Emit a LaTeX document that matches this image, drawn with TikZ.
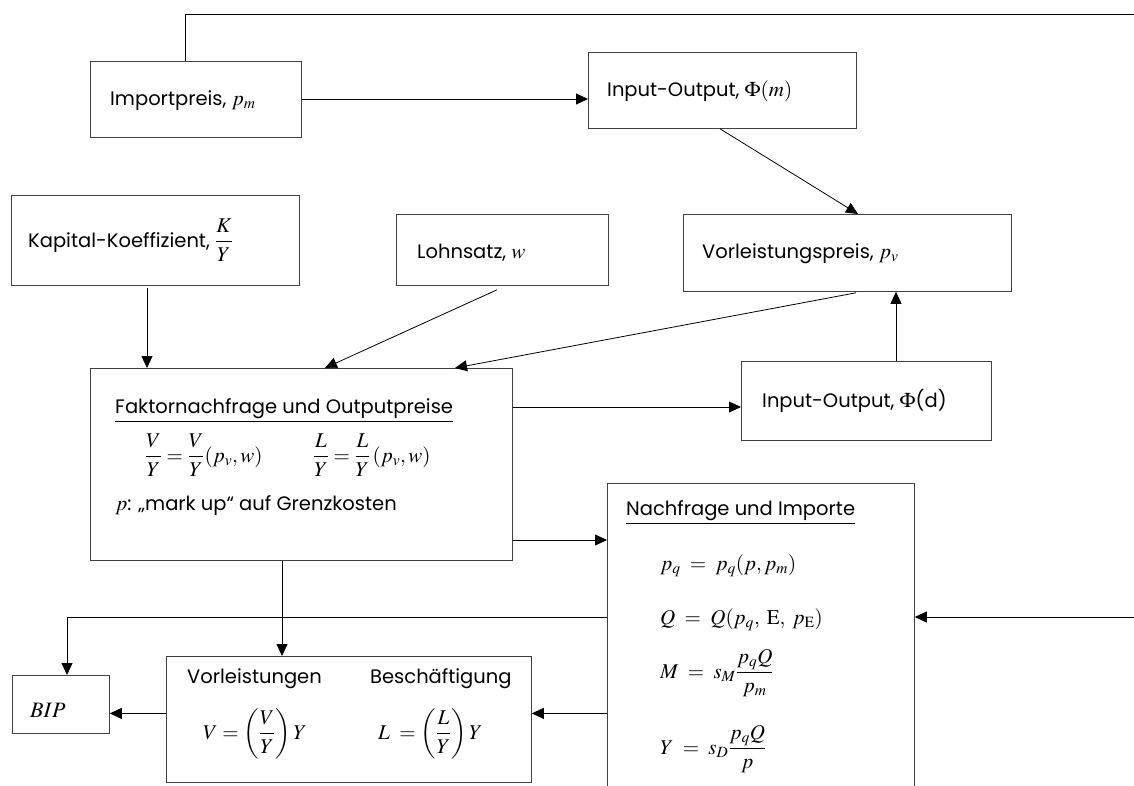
\documentclass[tikz,border=0pt]{standalone}
\usepackage{mathptmx}
\usepackage[no-math]{fontspec}
\setmainfont{Poppins}
\usetikzlibrary{arrows.meta,calc}
\newcommand\mth[1]{{\fontsize{21}{25}\selectfont$#1$}}
\newcommand\dmth[1]{{\fontsize{21}{25}\selectfont$\displaystyle #1$}}
\begin{document}
\begin{tikzpicture}[x=1pt,y=-1pt,
  font=\fontsize{19.5}{23}\selectfont,
  box/.style={draw=black!75, line width=0.8pt, inner sep=0pt, anchor=north west},
  txt/.style={anchor=base west, inner sep=0pt},
  ln/.style={line width=0.8pt},
  arr/.style={ln, -{Triangle[length=12pt,width=11pt]}}]
\useasboundingbox (0,0) rectangle (1134,785);
\clip (0,0) rectangle (1134,785);
% boxes
\node[box, minimum width=211pt, minimum height=76pt] (imp) at (90,61) {};
\node[box, minimum width=268pt, minimum height=76pt] (iom) at (588,52) {};
\node[box, minimum width=288pt, minimum height=90pt] (kap) at (11,195) {};
\node[box, minimum width=212pt, minimum height=71pt] (lohn) at (396,214) {};
\node[box, minimum width=328pt, minimum height=77pt] (vp) at (683,214) {};
\node[box, minimum width=422pt, minimum height=192pt] (fak) at (90,368) {};
\node[box, minimum width=250pt, minimum height=79pt] (iod) at (741,361) {};
\node[box, minimum width=307pt, minimum height=330pt] (nach) at (607,483) {};
\node[box, minimum width=365pt, minimum height=126pt] (vorl) at (166,656) {};
\node[box, minimum width=97pt, minimum height=58pt] (bip) at (12,675) {};
% texts
\node[txt] (timp) at (110,105) {Importpreis, \mth{p_m}};
\node[txt] (tiom) at (607,96) {Input-Output, \mth{\Phi(m)}};
\node[txt] (tkap) at (28,247) {Kapital-Koeffizient, \dmth{\frac{K}{Y}}};
\node[txt] (tlohn) at (417,258) {Lohnsatz, \mth{w}};
\node[txt] (tvp) at (702,258) {Vorleistungspreis, \mth{p_v}};
\node[txt] (tiod) at (762,407) {Input-Output, \mth{\Phi}(d)};
\node[txt] (tfak) at (115,413) {\underline{Faktornachfrage und Outputpreise}};
\node[txt] (eq1) at (145,462) {\dmth{\frac{V}{Y}=\frac{V}{Y}(p_v,w)}};
\node[txt] (eq2) at (313,462) {\dmth{\frac{L}{Y}=\frac{L}{Y}\,(p_v,w)}};
\node[txt] (tmark) at (115,510) {\mth{p}: „mark up“ auf Grenzkosten};
\node[txt] (tnach) at (626,515) {\underline{Nachfrage und Importe}};
\node[txt] (n1) at (660,570) {\mth{p_q\;=\;p_q(p,p_m)}};
\node[txt] (n2) at (660,624) {\mth{Q\;=\;Q(p_q,\;\mathrm{E},\;p_{\mathrm{E}})}};
\node[txt] (n3) at (660,678) {\dmth{M\;=\;s_M\frac{p_qQ}{p_m}}};
\node[txt] (n4) at (660,754) {\dmth{Y\;=\;s_D\frac{p_qQ}{p}}};
\node[txt] (tv) at (187,683) {Vorleistungen};
\node[txt] (tb) at (370,683) {Beschäftigung};
\node[txt] (ev) at (203,739) {\dmth{V=\left(\frac{V}{Y}\right)Y}};
\node[txt] (el) at (378,739) {\dmth{L\;=\left(\frac{L}{Y}\right)Y}};
\node[txt] (tbip) at (30,717) {{\fontsize{22}{26}\selectfont$BIP$}};
% free ends
\coordinate (tl) at (185,14);
\coordinate (tr) at (1134,14);
\coordinate (rr) at (1134,617);
\coordinate (bl) at (67,617);
% connectors
\draw[ln] (imp.north -| tl) -- (tl) -- (tr);
\draw[arr] ($(imp.north east)+(0,38)$) coordinate (a1) -- (a1 -| iom.west);
\draw[arr] ($(iom.south west)+(132,0)$) -- ($(vp.north west)+(175,0)$);
\draw[arr] ($(kap.south west)+(136,2)$) -- ($(fak.north west)+(57,0)$);
\draw[arr] ($(lohn.south west)+(101,4)$) -- ($(fak.north west)+(235,0)$);
\draw[arr] ($(vp.south west)+(173,1)$) -- ($(fak.north west)+(365,0)$);
\draw[arr] ($(fak.north east)+(0,39)$) coordinate (a2) -- (a2 -| iod.west);
\draw[arr] ($(iod.north west)+(155,0)$) coordinate (a3) -- (a3 |- vp.south);
\draw[arr] ($(fak.north east)+(0,172)$) coordinate (a4) -- (a4 -| nach.west);
\draw[arr] ($(fak.south west)+(192,0)$) coordinate (a5) -- (a5 |- vorl.north);
\draw[arr] (nach.west |- bip.east) coordinate (a6) ++(0,9) coordinate (a6b) -- (a6b -| vorl.east);
\draw[arr] (vorl.west |- a6b) -- (a6b -| bip.east);
\draw[arr] (nach.west |- bl) -- (bl) -- (bl |- bip.north);
\draw[arr] (rr) -- (rr -| nach.east);
\end{tikzpicture}
\end{document}
